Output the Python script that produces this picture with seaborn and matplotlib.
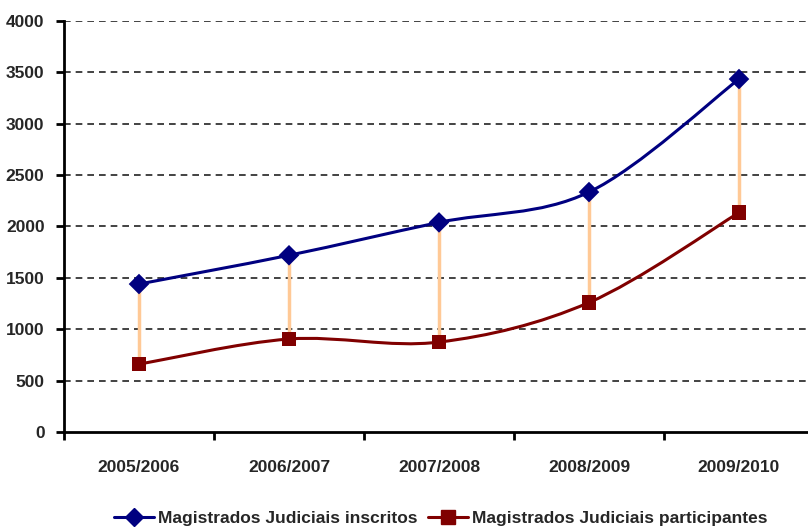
import matplotlib
matplotlib.use("Agg")
import matplotlib.pyplot as plt
from matplotlib.path import Path
from matplotlib.patches import PathPatch
from matplotlib.lines import Line2D
import seaborn as sns
import pandas as pd
import numpy as np

categories = ["2005/2006", "2006/2007", "2007/2008", "2008/2009", "2009/2010"]
inscritos = [1440, 1720, 2040, 2335, 3435]
participantes = [660, 905, 875, 1260, 2135]
label_insc = "Magistrados Judiciais inscritos"
label_part = "Magistrados Judiciais participantes"
yticks = [0, 500, 1000, 1500, 2000, 2500, 3000, 3500, 4000]

sns.set_theme(style="white")
plt.rcParams['font.family'] = ['Liberation Sans', 'DejaVu Sans']
FS = 12.5

fig = plt.figure(figsize=(8.08, 5.29), dpi=100)
ax = fig.add_axes([64/808, 97/529, 750/808, 411/529])

x = np.arange(len(categories))
df = pd.DataFrame({"x": np.concatenate([x, x]),
                   "y": inscritos + participantes,
                   "s": [label_insc]*5 + [label_part]*5})

BLUE = "#000080"
RED = "#800000"
ORANGE = "#FFC996"

# drop lines
ax.vlines(x, participantes, inscritos, colors=ORANGE, linewidth=2.5, zorder=2)

def smooth_path(xs, ys):
    pts = np.column_stack([xs, ys]).astype(float)
    n = len(pts)
    verts = [pts[0]]
    codes = [Path.MOVETO]
    for i in range(n - 1):
        p0 = pts[i - 1] if i > 0 else pts[i]
        p1 = pts[i]
        p2 = pts[i + 1]
        p3 = pts[i + 2] if i + 2 < n else pts[i + 1]
        c1 = p1 + (p2 - p0) / 6.0
        c2 = p2 - (p3 - p1) / 6.0
        verts += [c1, c2, p2]
        codes += [Path.CURVE4] * 3
    return Path(verts, codes)

for ys, col in [(inscritos, BLUE), (participantes, RED)]:
    ax.add_patch(PathPatch(smooth_path(x, ys), facecolor="none", edgecolor=col,
                           linewidth=2.2, zorder=3))

sns.scatterplot(data=df, x="x", y="y", hue="s", style="s",
                palette={label_insc: BLUE, label_part: RED},
                markers={label_insc: "D", label_part: "s"},
                s=110, edgecolor="none", legend=False, ax=ax, zorder=4)

ax.set_xlim(-0.5, 4.5)
ax.set_ylim(0, 4000)
ax.set_yticks(yticks)
ax.set_yticklabels([str(v) for v in yticks], fontsize=FS, fontweight="bold")
ax.set_xticks(x)
ax.set_xticklabels(categories, fontsize=FS, fontweight="bold")
ax.set_xticks(np.arange(-0.5, 5.0, 1.0), minor=True)
ax.tick_params(axis="x", which="major", length=0, pad=20)
ax.tick_params(axis="x", which="minor", length=6, width=2, direction="out", color="black", bottom=True)
ax.tick_params(axis="y", length=6, width=2, direction="out", color="black", left=True, pad=8)
ax.set_xlabel("")
ax.set_ylabel("")

for v in yticks[1:]:
    ax.axhline(v, color="#222222", linewidth=1.2, linestyle=(0, (4, 3)), zorder=1)

for sp in ["top", "right"]:
    ax.spines[sp].set_visible(False)
for sp in ["left", "bottom"]:
    ax.spines[sp].set_color("black")
    ax.spines[sp].set_linewidth(2)

handles = [Line2D([], [], color=BLUE, marker="D", markersize=9, linewidth=2.2),
           Line2D([], [], color=RED, marker="s", markersize=10, linewidth=2.2)]
fig.legend(handles, [label_insc, label_part], loc="center", bbox_to_anchor=(441/808, 1 - 518/529),
           ncol=2, frameon=False, prop={"size": FS, "weight": "bold"},
           handlelength=2.3, handletextpad=0.25, columnspacing=0.6)

fig.savefig("out.png", dpi=100)
